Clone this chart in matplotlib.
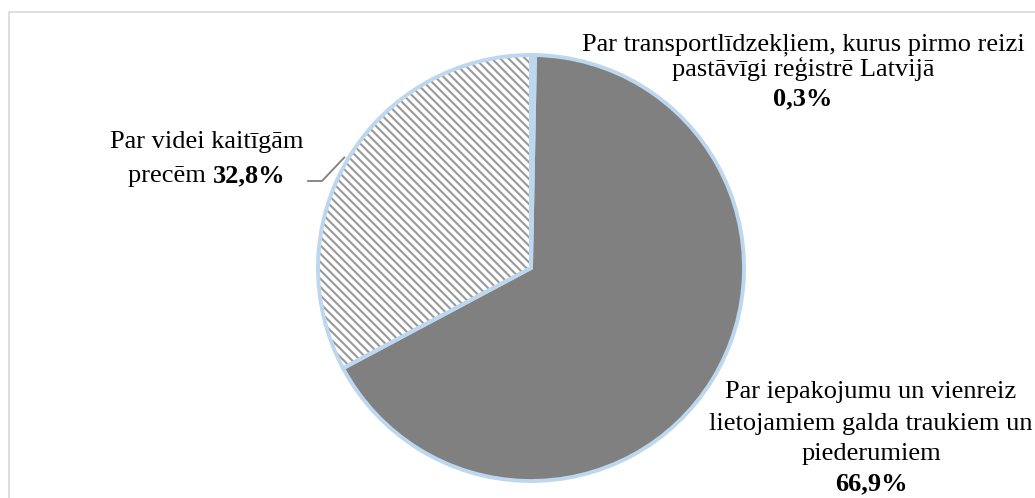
import matplotlib
matplotlib.use("Agg")
import matplotlib.pyplot as plt
from matplotlib.patches import Rectangle
import numpy as np

# Data
labels = [["Par transportlīdzekļiem, kurus pirmo reizi", "pastāvīgi reģistrē Latvijā"],
          ["Par iepakojumu un vienreiz", "lietojamiem galda traukiem un", "piederumiem"],
          ["Par videi kaitīgām", "precēm"]]
values = [0.3, 66.9, 32.8]
value_text = ["0,3%", "66,9%", "32,8%"]
colors = ["#FFFFFF", "#808080", "#FFFFFF"]
hatches = [None, None, "\\\\\\\\"]

W, H = 1035, 498
fig = plt.figure(figsize=(W / 100, H / 100), dpi=100)
ax = fig.add_axes([0, 0, 1, 1])

plt.rcParams["hatch.linewidth"] = 1.5
plt.rcParams["hatch.color"] = "#9A9A9A"

cx, cy, r = 531, H - 268, 213
edge = "#BDD7EE"

wedges, _ = ax.pie(values, colors=colors, startangle=90, counterclock=False,
                   center=(cx, cy), radius=r, frame=True,
                   wedgeprops=dict(linewidth=0, edgecolor="#9A9A9A"))
for w, h in zip(wedges, hatches):
    if h:
        w.set_hatch(h)
ax.pie(values, colors=["none"] * 3, startangle=90, counterclock=False,
       center=(cx, cy), radius=r, frame=True,
       wedgeprops=dict(linewidth=2.8, edgecolor=edge, fill=False))
ax.set_xlim(0, W)
ax.set_ylim(0, H)
ax.set_aspect("equal")
ax.axis("off")

font = "Liberation Serif"
fs = 19

def put(x, y_top, text, bold=False):
    return ax.text(x, H - y_top, text, ha="center", va="baseline", fontsize=fs,
                   family=font, fontweight="bold" if bold else "normal")

# Top label
put(803, 50, labels[0][0])
put(803, 76, labels[0][1])
put(803, 105, value_text[0], bold=True)

# Bottom right label
put(871, 398, labels[1][0])
put(871, 430, labels[1][1])
put(871, 460, labels[1][2])
put(871, 490, value_text[1], bold=True)

# Left label
put(207, 148, labels[2][0])
fig.canvas.draw()
rend = fig.canvas.get_renderer()
t_a = ax.text(0, H - 182, labels[2][1] + " ", ha="left", va="baseline",
              fontsize=fs, family=font)
t_b = ax.text(0, H - 182, value_text[2], ha="left", va="baseline", fontsize=fs,
              family=font, fontweight="bold")
wa = t_a.get_window_extent(rend).width
wb = t_b.get_window_extent(rend).width
x0 = 207 - (wa + wb) / 2
t_a.set_x(x0)
t_b.set_x(x0 + wa)

# Leader line for left label
start = 90 - 3.6 * (values[0] + values[1])
mid = np.deg2rad(start - 3.6 * values[2] / 2)
ex, ey = cx + r * np.cos(mid), cy + r * np.sin(mid)
ax.plot([308, 322, ex - 4], [H - 181, H - 181, ey + 1], color="#7F7F7F", lw=1.3)

# Frame
fig.add_artist(Rectangle((9 / W, -0.1), 1.2, (H - 12) / H + 0.1,
                         transform=fig.transFigure, fill=False,
                         edgecolor="#D9D9D9", lw=1.2))

fig.savefig("out.png", dpi=100)
